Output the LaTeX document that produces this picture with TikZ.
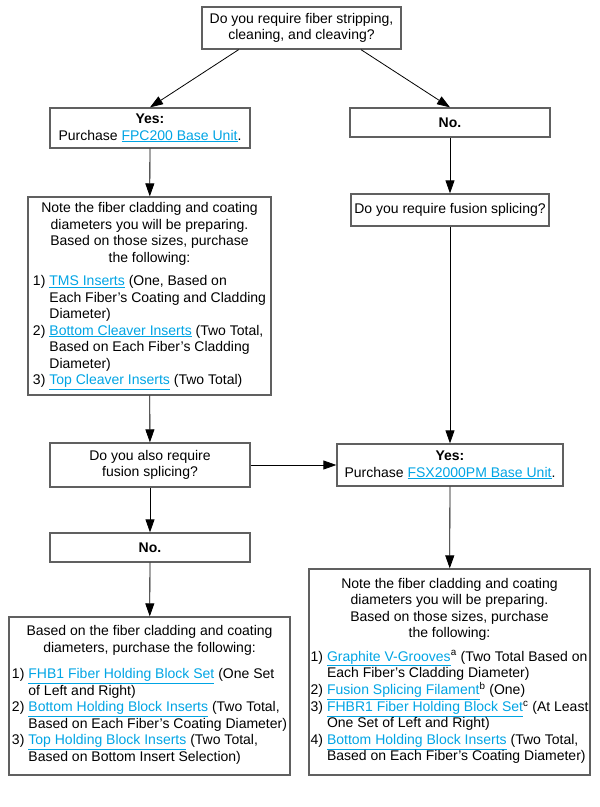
\documentclass[tikz,border=0pt]{standalone}
\usepackage{fontspec}
\setmainfont{Liberation Sans}
\usepackage{tikz}
\usetikzlibrary{arrows.meta,shapes}
\definecolor{linkblue}{RGB}{0,164,228}
\definecolor{boxgray}{RGB}{96,96,96}
\tikzstyle{box}=[rectangle,draw=boxgray,line width=1.3pt,inner sep=0pt,align=center,font=\fontsize{14}{16.5}\selectfont]
\tikzstyle{edge} = [draw,line width=0.8pt,-{Triangle[length=13pt,width=9pt]}]
\newcommand{\lnk}[1]{\textcolor{linkblue}{\underline{#1}}}

\begin{document}
\begin{tikzpicture}[x=1pt, y=-1pt]
\useasboundingbox (0,0) rectangle (600,807);

    % first question
    \node[box, minimum width=199pt, minimum height=42pt] (top) at (301.5,28)
        {Do you require fiber stripping,\\cleaning, and cleaving?};

    % left column
    \node[box, minimum width=200pt, minimum height=40pt] (yesL) at (150,128)
        {\textbf{Yes:}\\Purchase \lnk{FPC200 Base Unit}.};
    \node[box, minimum width=243pt, minimum height=198pt] (noteL) at (149.5,296)
        {Note the fiber cladding and coating\\
         diameters you will be preparing.\\
         Based on those sizes, purchase\\
         the following:\\[7pt]
         \begin{tabular}[t]{@{}l@{\hspace{4pt}}l@{}}
         1) & \lnk{TMS Inserts} (One, Based on\\
            & Each Fiber’s Coating and Cladding\\
            & Diameter)\\
         2) & \lnk{Bottom Cleaver Inserts} (Two Total,\\
            & Based on Each Fiber’s Cladding\\
            & Diameter)\\
         3) & \lnk{Top Cleaver Inserts} (Two Total)
         \end{tabular}};
    \node[box, minimum width=200pt, minimum height=44pt] (alsoL) at (150,465)
        {Do you also require\\fusion splicing?};
    \node[box, minimum width=200pt, minimum height=29pt] (noL) at (150,547.5)
        {\textbf{No.}};
    \node[box, minimum width=281pt, minimum height=158pt] (basedL) at (149.5,696)
        {Based on the fiber cladding and coating\\
         diameters, purchase the following:\\[10pt]
         \begin{tabular}[t]{@{}l@{\hspace{4pt}}l@{}}
         1) & \lnk{FHB1 Fiber Holding Block Set} (One Set\\
            & of Left and Right)\\
         2) & \lnk{Bottom Holding Block Inserts} (Two Total,\\
            & Based on Each Fiber’s Coating Diameter)\\
         3) & \lnk{Top Holding Block Inserts} (Two Total,\\
            & Based on Bottom Insert Selection)
         \end{tabular}};

    % right column
    \node[box, minimum width=200pt, minimum height=29pt] (noR) at (450,122.5)
        {\textbf{No.}};
    \node[box, minimum width=198pt, minimum height=32pt] (fusR) at (450,210)
        {Do you require fusion splicing?};
    \node[box, minimum width=226pt, minimum height=42pt] (yesR) at (450,465)
        {\textbf{Yes:}\\Purchase \lnk{FSX2000PM Base Unit}.};
    \node[box, minimum width=281pt, minimum height=206pt] (noteR) at (449.5,672)
        {Note the fiber cladding and coating\\
         diameters you will be preparing.\\
         Based on those sizes, purchase\\
         the following:\\[7pt]
         \begin{tabular}[t]{@{}l@{\hspace{4pt}}l@{}}
         1) & \lnk{Graphite V-Grooves}\textsuperscript{a} (Two Total Based on\\
            & Each Fiber’s Cladding Diameter)\\
         2) & \lnk{Fusion Splicing Filament}\textsuperscript{b} (One)\\
         3) & \lnk{FHBR1 Fiber Holding Block Set}\textsuperscript{c} (At Least\\
            & One Set of Left and Right)\\
         4) & \lnk{Bottom Holding Block Inserts} (Two Total,\\
            & Based on Each Fiber’s Coating Diameter)
         \end{tabular}};

    \path[edge] (top.199) -- (yesL.north);
    \path[edge] (top.340) -- (noR.north);

    \foreach \source/ \dest in {yesL/noteL, noteL/alsoL, alsoL/noL, noL/basedL, noR/fusR, fusR/yesR, yesR/noteR, alsoL/yesR}
        \path[edge] (\source) -- (\dest);

\end{tikzpicture}
\end{document}
